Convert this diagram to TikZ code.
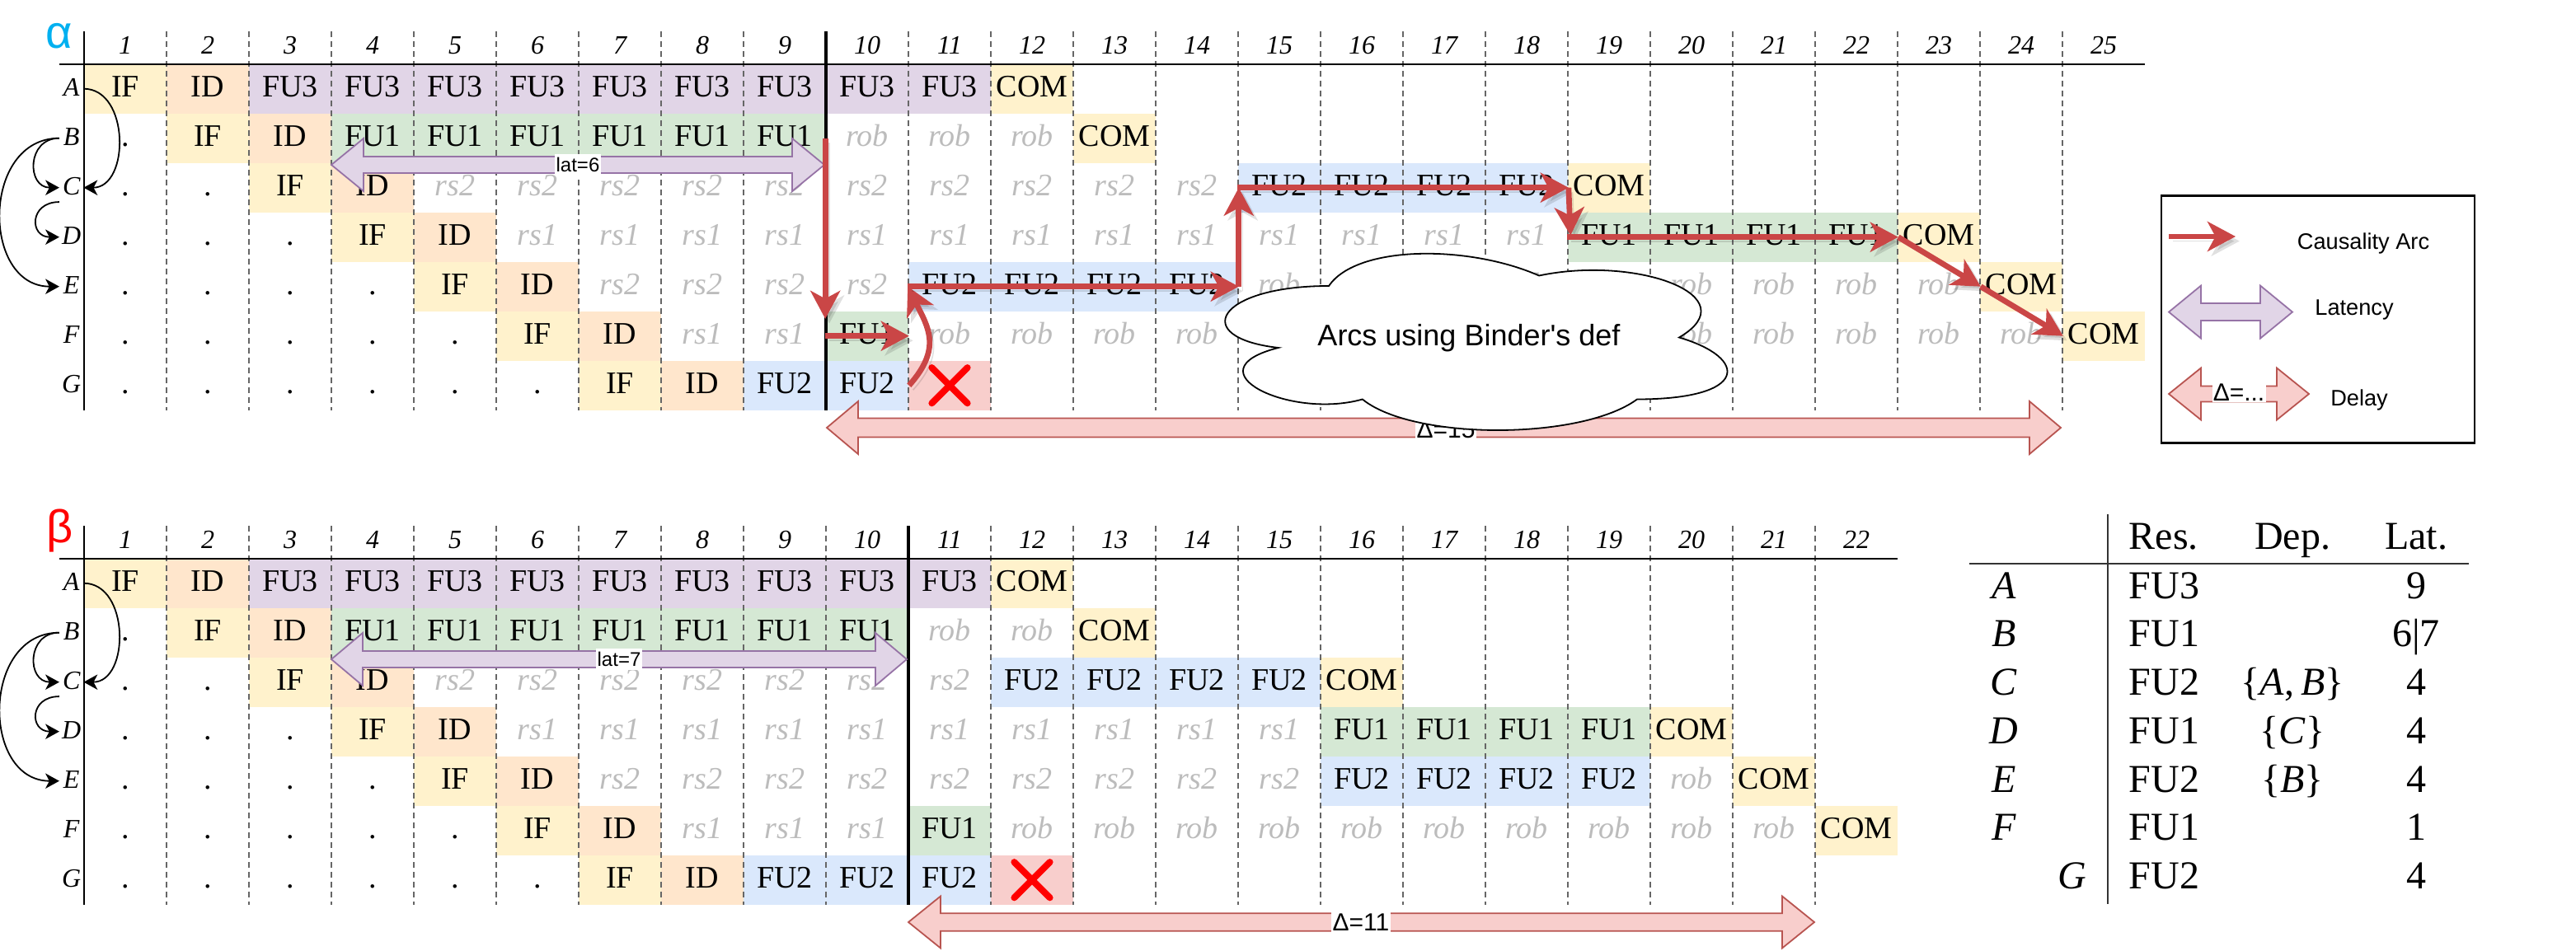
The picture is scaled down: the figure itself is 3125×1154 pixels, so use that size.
\documentclass[tikz,border=0pt]{standalone}
\usepackage{fontspec}
\setmainfont{Liberation Serif}
\setsansfont{Liberation Sans}
\usetikzlibrary{arrows.meta,calc}

\definecolor{ifcol}{HTML}{FFF2CC}
\definecolor{idcol}{HTML}{FFE6CC}
\definecolor{fuacol}{HTML}{D5E8D4}
\definecolor{fubcol}{HTML}{DAE8FC}
\definecolor{fuccol}{HTML}{E1D5E7}
\definecolor{stallcol}{HTML}{F8CECC}
\definecolor{latdraw}{HTML}{9673A6}
\definecolor{deldraw}{HTML}{B85450}
\definecolor{arcred}{RGB}{202,70,70}
\definecolor{waitgray}{RGB}{188,188,188}
\definecolor{alphacol}{RGB}{0,176,240}

\tikzset{
  cell/.style={minimum width=25pt,minimum height=15pt,inner sep=0pt,
    text height=6.3pt,text depth=1.5pt,font=\fontsize{9.5}{11}\selectfont},
  ifbox/.style={cell,fill=ifcol},
  idbox/.style={cell,fill=idcol},
  fuabox/.style={cell,fill=fuacol},
  fubbox/.style={cell,fill=fubcol},
  fucbox/.style={cell,fill=fuccol},
  combox/.style={cell,fill=ifcol},
  stallbox/.style={cell,fill=stallcol},
  waitbox/.style={cell,text=waitgray,font=\itshape\fontsize{9.5}{11}\selectfont},
  dotbox/.style={cell},
  colnum/.style={inner sep=0pt,font=\itshape\fontsize{8}{9}\selectfont},
  rowlbl/.style={inner xsep=0pt,inner ysep=1pt,minimum width=7pt,
    text height=5.3pt,text depth=1pt,font=\itshape\fontsize{8}{9}\selectfont},
  charttag/.style={inner sep=0pt,font=\sffamily\fontsize{14}{16}\selectfont},
  gridline/.style={draw=black!60,line width=0.4pt,dash pattern=on 1.8pt off 1.2pt},
  ruleh/.style={draw=black,line width=0.5pt},
  rulethin/.style={draw=black,line width=0.35pt},
  rulebold/.style={draw=black,line width=1pt},
  cross/.style={draw=red,line width=2pt,line cap=round},
  dep/.style={draw=black,line width=0.45pt,-{Stealth[length=4.2pt,width=4.6pt,inset=1.2pt]}},
  causal/.style={draw=arcred,line width=1.7pt,-{Stealth[length=8.5pt,width=9pt,inset=2.4pt]},
    preaction={draw=black,opacity=0.12,transform canvas={shift={(1.2pt,-1.4pt)}}}},
  latarrow/.style={fill=fuccol,draw=latdraw,line width=0.45pt},
  delarrow/.style={fill=stallcol,draw=deldraw,line width=0.45pt},
  latlabel/.style={fill=white,inner xsep=0.3pt,inner ysep=1pt,font=\sffamily\fontsize{6}{7}\selectfont},
  dellabel/.style={fill=white,inner xsep=0.3pt,inner ysep=0.5pt,font=\sffamily\fontsize{7.5}{9}\selectfont},
  legendtxt/.style={inner sep=0pt,font=\sffamily\fontsize{6.8}{8}\selectfont},
  legendbox/.style={draw=black,line width=0.6pt},
  cloudline/.style={draw=black,fill=white,line width=0.45pt},
  cloudtxt/.style={inner sep=0pt,font=\sffamily\fontsize{9}{11}\selectfont},
  tabtxt/.style={inner sep=0pt,font=\fontsize{12}{14}\selectfont},
  tabrule/.style={draw=black!80,line width=0.45pt}
}

% one row of a schedule: prefix, row, row index, {from/to/style/text,...}
\newcommand\schedrow[4]{%
  \foreach \ca/\cb/\st/\txt in {#4}
    \foreach \col in {\ca,...,\cb}
      \node[\st] (#1-#2-\col) at (52+100*\col,47.7+60*#3) {\txt};}

% grid rules: number of columns, column before the bold rule
\newcommand\schedrules[2]{%
  \pgfmathtruncatemacro\lastdash{#1-1}
  \foreach \col in {1,...,\lastdash}
    \draw[gridline] (102+100*\col,38) -- (102+100*\col,497.7);
  \draw[ruleh] (72,77.7) -- (102+100*#1,77.7);
  \draw[rulethin] (102,38) -- (102,497.7);
  \draw[rulebold] (102+100*#2,38) -- (102+100*#2,497.7);}

% column numbers, row names and dependency arcs
\newcommand\schedlabels[2]{%
  \foreach \col in {1,...,#2}
    \node[colnum] (#1-h-\col) at (52+100*\col,55) {\col};
  \foreach \rw [count=\i] in {A,...,G}
    \node[rowlbl] (#1-\rw) at (86.7,47.7+60*\i) {\rw};
  \draw[dep] (#1-A.east) to[out=0,in=0,looseness=1.2] (#1-C.east);
  \draw[dep] (#1-B.west) to[out=180,in=180,looseness=1.7] (#1-C.west);
  \draw[dep] (#1-B.west) to[out=180,in=180,looseness=1.35] (#1-E.west);
  \draw[dep] (#1-C.south west) to[out=180,in=180,looseness=2.2] (#1-D.west);}

% fat double arrow: x1, x2, y, shaft half height, head half height, head length
\newcommand\fatarrow[7][]{%
  \draw[#1] (#2,#4) -- (#2+#7,#4-#6) -- (#2+#7,#4-#5) -- (#3-#7,#4-#5) -- (#3-#7,#4-#6)
    -- (#3,#4) -- (#3-#7,#4+#6) -- (#3-#7,#4+#5) -- (#2+#7,#4+#5) -- (#2+#7,#4+#6) -- cycle;}

\begin{document}
\begin{tikzpicture}[x=0.25pt,y=-0.25pt]
  \useasboundingbox (0,0) rectangle (3125,1154);

  % alpha schedule
  \node[charttag,text=alphacol] (a-tag) at (72,44) {α};
  \schedrow{a}{A}{1}{1/1/ifbox/IF, 2/2/idbox/ID, 3/11/fucbox/FU3, 12/12/combox/COM}
  \schedrow{a}{B}{2}{1/1/dotbox/., 2/2/ifbox/IF, 3/3/idbox/ID, 4/9/fuabox/FU1, 10/12/waitbox/rob, 13/13/combox/COM}
  \schedrow{a}{C}{3}{1/2/dotbox/., 3/3/ifbox/IF, 4/4/idbox/ID, 5/14/waitbox/rs2, 15/18/fubbox/FU2, 19/19/combox/COM}
  \schedrow{a}{D}{4}{1/3/dotbox/., 4/4/ifbox/IF, 5/5/idbox/ID, 6/18/waitbox/rs1, 19/22/fuabox/FU1, 23/23/combox/COM}
  \schedrow{a}{E}{5}{1/4/dotbox/., 5/5/ifbox/IF, 6/6/idbox/ID, 7/10/waitbox/rs2, 11/14/fubbox/FU2, 15/23/waitbox/rob, 24/24/combox/COM}
  \schedrow{a}{F}{6}{1/5/dotbox/., 6/6/ifbox/IF, 7/7/idbox/ID, 8/9/waitbox/rs1, 10/10/fuabox/FU1, 11/24/waitbox/rob, 25/25/combox/COM}
  \schedrow{a}{G}{7}{1/6/dotbox/., 7/7/ifbox/IF, 8/8/idbox/ID, 9/10/fubbox/FU2, 11/11/stallbox/}
  \draw[cross] (a-G-11.center) +(-5.4pt,-5.4pt) -- +(5.4pt,5.4pt) +(-5.4pt,5.4pt) -- +(5.4pt,-5.4pt);
  \schedrules{25}{9}
  \schedlabels{a}{25}
  \fatarrow[latarrow]{402}{1000}{200}{10}{32}{39}
  \node[latlabel] (a-lat) at (701,200) {lat=6};

  % causality arcs
  \draw[causal] (a-B-10.west) -- ($(a-F-10.north west)+(0,10)$);
  \draw[causal] (a-F-10.west) -- (a-F-10.east);
  \draw[causal] (a-G-10.east) .. controls +(40,-45) and +(25,50) .. (a-E-11.west);
  \draw[causal] (a-E-11.west) -- (a-E-14.east);
  \draw[causal] (a-E-14.east) -- (a-C-14.east);
  \draw[causal] (a-C-15.west) -- (a-C-18.east);
  \draw[causal] (a-C-18.east) -- ($(a-D-19.west)+(4,-2)$);
  \draw[causal] (a-D-19.west) -- (a-D-22.east);
  \draw[causal] (a-D-22.east) -- (a-E-23.east);
  \draw[causal] (a-E-23.east) -- (a-F-24.east);

  \fatarrow[delarrow]{1003}{2500}{519}{11.5}{32}{38}
  \node[dellabel] (a-delta) at (1754,521) {Δ=15};
  \draw[cloudline] (1612,347) .. controls (1476,347) and (1442,409.5) .. (1550.8,422)
    .. controls (1442,449.5) and (1564.4,509.5) .. (1652.8,484.5)
    .. controls (1714,534.5) and (1918,534.5) .. (1986,484.5)
    .. controls (2122,484.5) and (2122,434.5) .. (2037,409.5)
    .. controls (2122,359.5) and (1986,309.5) .. (1867,334.5)
    .. controls (1782,297) and (1646,297) .. (1612,347) -- cycle;
  \node[cloudtxt] (a-cloud) at (1782,410) {Arcs using Binder\textquotesingle s def};

  % legend
  \draw[legendbox] (2622,237.5) rectangle (3002,537.5);
  \coordinate (lg-c1) at (2631,287);
  \coordinate (lg-c2) at (2712,287);
  \draw[causal] (lg-c1) -- (lg-c2);
  \node[legendtxt] (lg-causal) at (2867,295) {Causality Arc};
  \fatarrow[latarrow]{2631}{2781}{378.6}{10.5}{32}{39}
  \node[legendtxt] (lg-lat) at (2856,376) {Latency};
  \fatarrow[delarrow]{2631}{2801}{478}{9.5}{31.5}{39}
  \node[dellabel] (lg-dlabel) at (2716,476) {Δ=...};
  \node[legendtxt] (lg-delay) at (2862,485) {Delay};

  % beta schedule
  \begin{scope}[shift={(0,600)}]
    \node[charttag,text=red] (b-tag) at (72.6,44) {β};
    \schedrow{b}{A}{1}{1/1/ifbox/IF, 2/2/idbox/ID, 3/11/fucbox/FU3, 12/12/combox/COM}
    \schedrow{b}{B}{2}{1/1/dotbox/., 2/2/ifbox/IF, 3/3/idbox/ID, 4/10/fuabox/FU1, 11/12/waitbox/rob, 13/13/combox/COM}
    \schedrow{b}{C}{3}{1/2/dotbox/., 3/3/ifbox/IF, 4/4/idbox/ID, 5/11/waitbox/rs2, 12/15/fubbox/FU2, 16/16/combox/COM}
    \schedrow{b}{D}{4}{1/3/dotbox/., 4/4/ifbox/IF, 5/5/idbox/ID, 6/15/waitbox/rs1, 16/19/fuabox/FU1, 20/20/combox/COM}
    \schedrow{b}{E}{5}{1/4/dotbox/., 5/5/ifbox/IF, 6/6/idbox/ID, 7/15/waitbox/rs2, 16/19/fubbox/FU2, 20/20/waitbox/rob, 21/21/combox/COM}
    \schedrow{b}{F}{6}{1/5/dotbox/., 6/6/ifbox/IF, 7/7/idbox/ID, 8/10/waitbox/rs1, 11/11/fuabox/FU1, 12/21/waitbox/rob, 22/22/combox/COM}
    \schedrow{b}{G}{7}{1/6/dotbox/., 7/7/ifbox/IF, 8/8/idbox/ID, 9/11/fubbox/FU2, 12/12/stallbox/}
    \draw[cross] (b-G-12.center) +(-5.4pt,-5.4pt) -- +(5.4pt,5.4pt) +(-5.4pt,5.4pt) -- +(5.4pt,-5.4pt);
    \schedrules{22}{10}
    \schedlabels{b}{22}
    \fatarrow[latarrow]{402}{1100}{200}{10}{32}{38}
    \node[latlabel] (b-lat) at (751,200) {lat=7};
    \fatarrow[delarrow]{1102}{2201}{519}{10.8}{31.5}{39}
    \node[dellabel] (b-delta) at (1651,519) {Δ=11};
  \end{scope}

  % instruction table
  \draw[tabrule] (2388.6,684) -- (2995,684);
  \draw[tabrule] (2556.6,624) -- (2556.6,1097);
  \node[tabtxt,anchor=base west] (t-res) at (2582,666) {Res.};
  \node[tabtxt,anchor=base] (t-dep) at (2781,666) {Dep.};
  \node[tabtxt,anchor=base] (t-lat) at (2931,666) {Lat.};
  \foreach \nm/\nx/\res/\dep/\lat [count=\i] in {A/2431/FU3//9, B/2431/FU1//6|7,
      C/2431/FU2/{\{\textit{A},\,\textit{B}\}}/4, D/2431/FU1/\{\textit{C}\}/4,
      E/2431/FU2/\{\textit{B}\}/4, F/2431/FU1//1, G/2514/FU2//4} {
    \node[tabtxt,anchor=base] (t-\nm) at (\nx,667.25+58.75*\i) {\textit{\nm}};
    \node[tabtxt,anchor=base west] (t-\nm-res) at (2582,667.25+58.75*\i) {\res};
    \node[tabtxt,anchor=base] (t-\nm-dep) at (2781,667.25+58.75*\i) {\dep};
    \node[tabtxt,anchor=base] (t-\nm-lat) at (2931,667.25+58.75*\i) {\lat};
  }
\end{tikzpicture}
\end{document}
